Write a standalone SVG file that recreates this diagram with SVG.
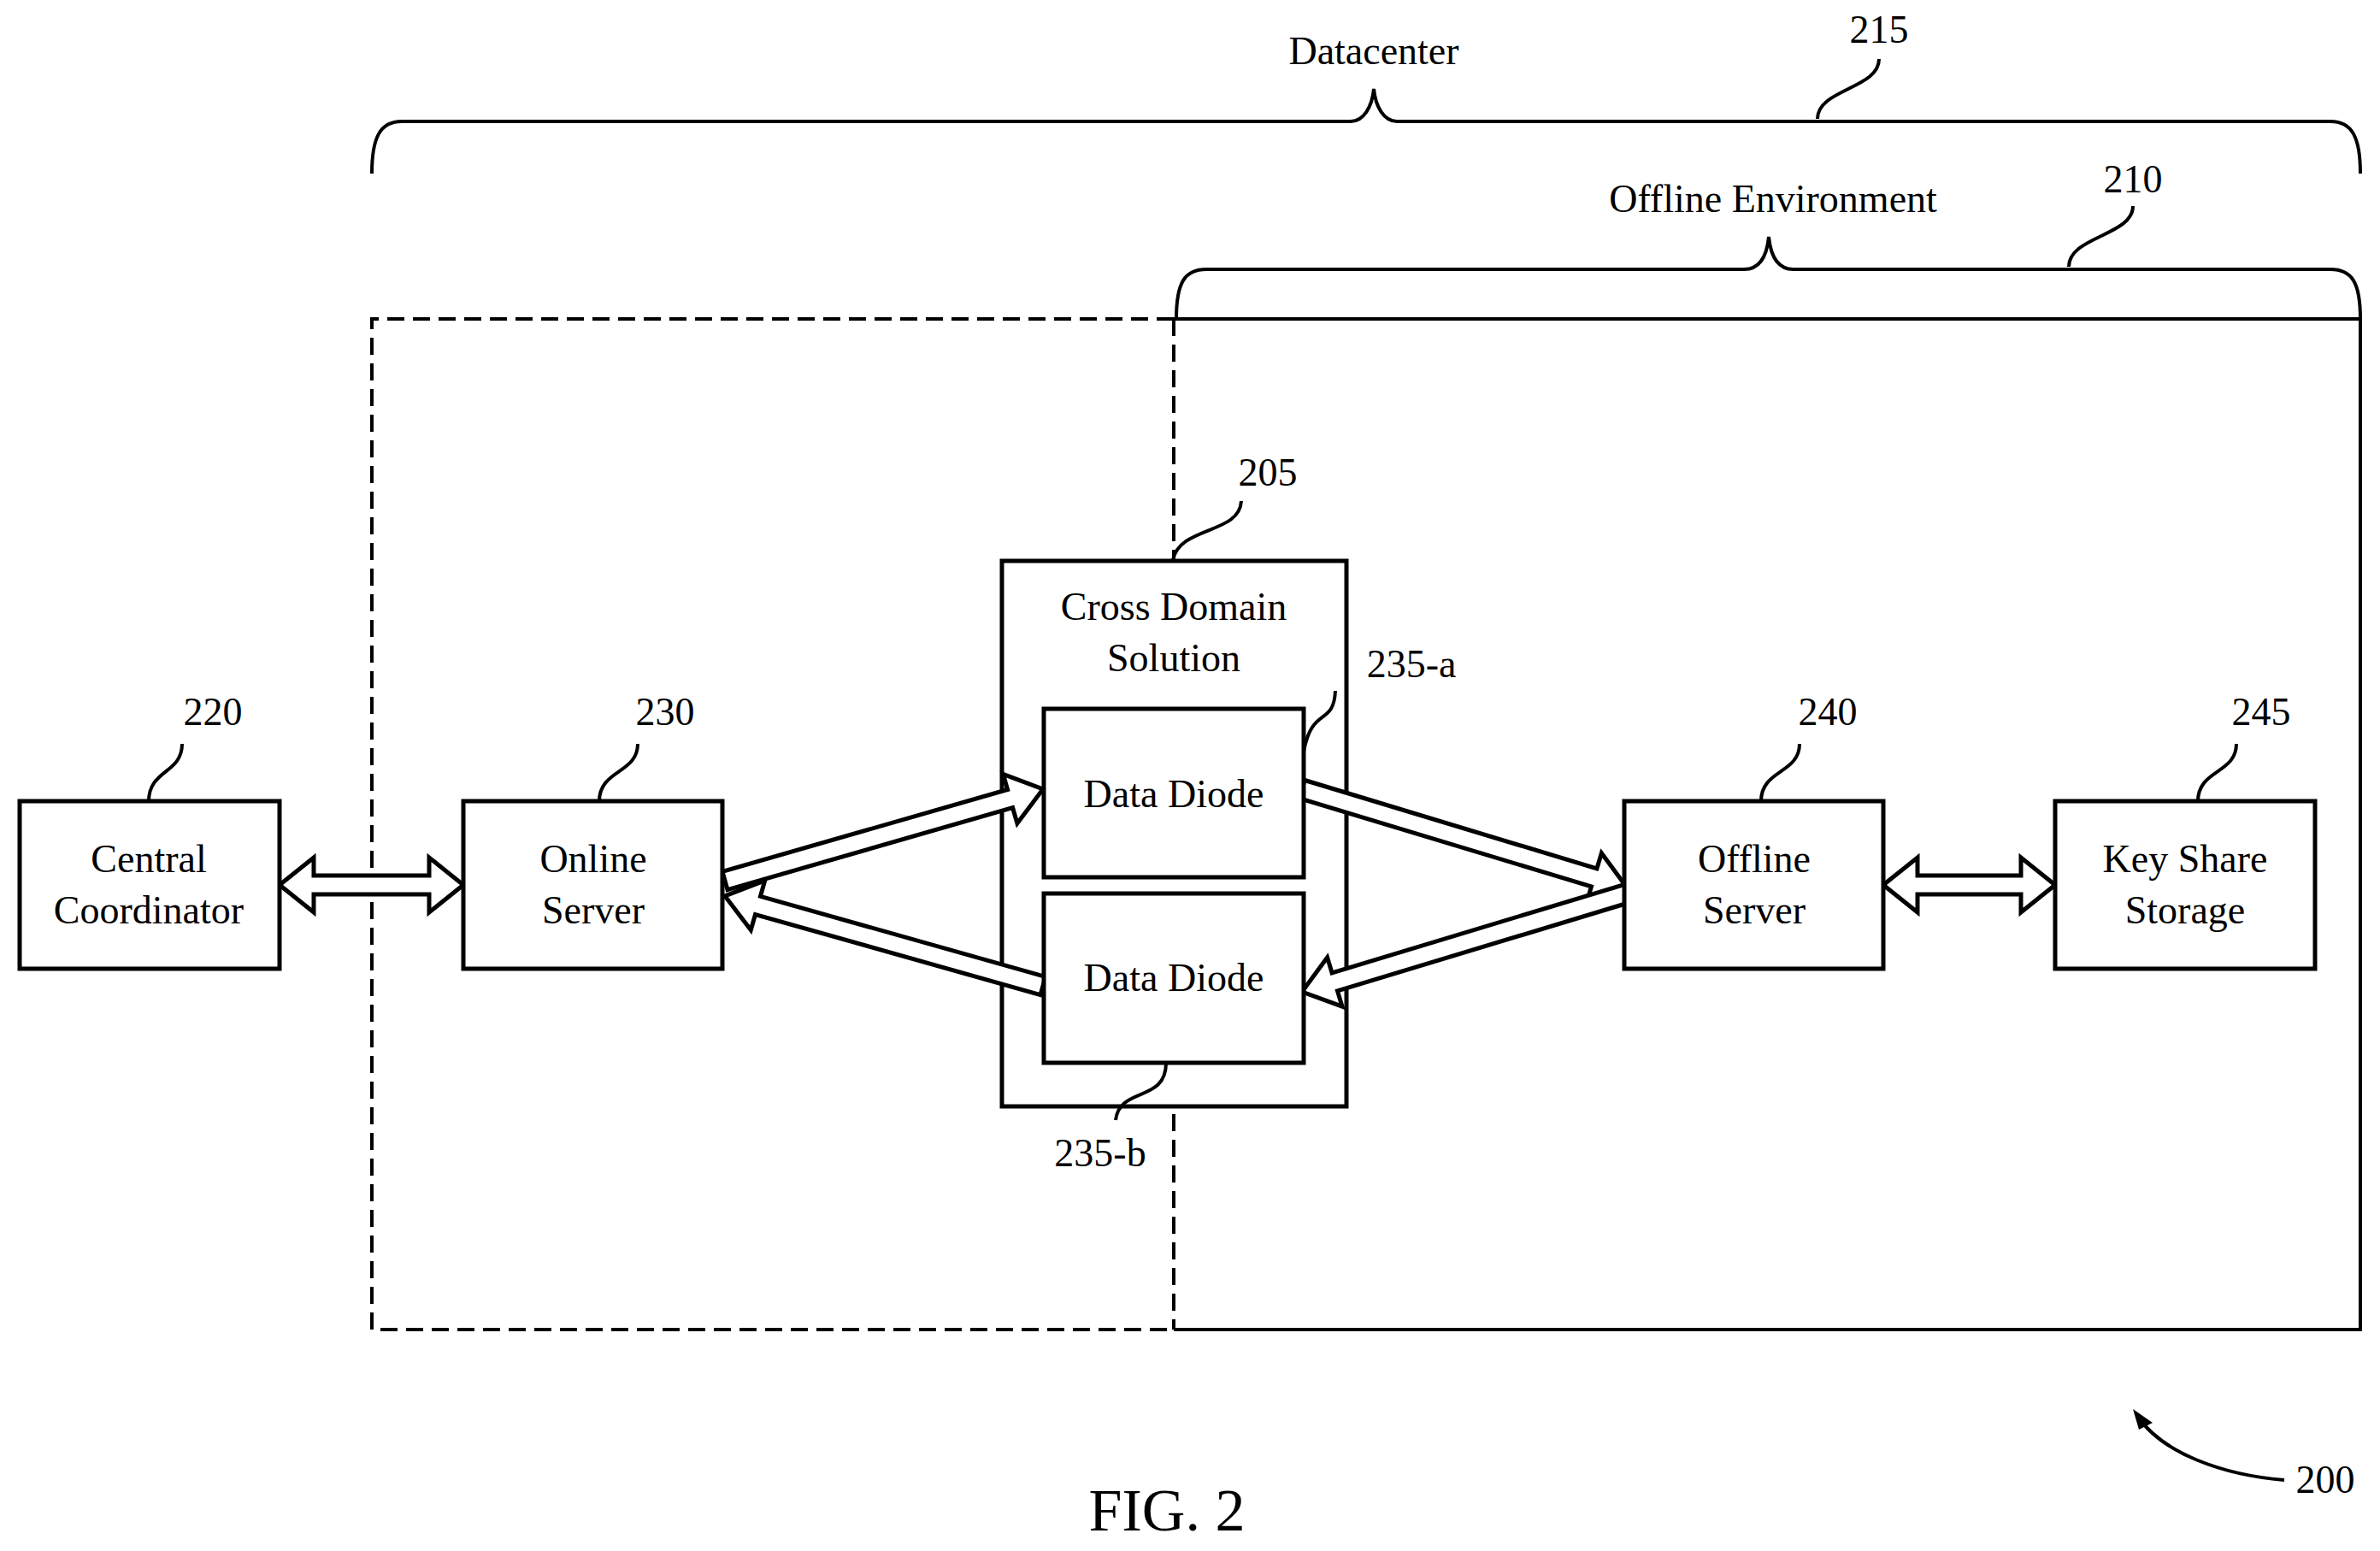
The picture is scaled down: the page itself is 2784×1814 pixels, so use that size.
<svg xmlns="http://www.w3.org/2000/svg" width="2784" height="1814" viewBox="0 0 2784 1814">
<style>
text{font-family:"Liberation Serif","Times New Roman",serif;font-size:46px;fill:#000;text-anchor:middle}
.b{fill:#fff;stroke:#000;stroke-width:5}
.l{fill:none;stroke:#000;stroke-width:4}
.ar{fill:#fff;stroke:#000;stroke-width:5;stroke-linejoin:miter}
.d{fill:none;stroke:#000;stroke-width:4;stroke-dasharray:20 10}
</style>
<rect width="2784" height="1814" fill="#fff"/>
<g id="datacenter">
<path class="l" stroke-width="6" d="M435,203 C435,160 445,142 470,142 L1580,142 C1595,142 1605,125 1607,104 C1609,125 1619,142 1634,142 L2726,142 C2751,142 2761,160 2761,203"/>
<text x="1607" y="75">Datacenter</text>
<text x="2198" y="50">215</text>
<path class="l" d="M2126,139 C2126,104 2198,104 2198,69"/>
<path class="d" d="M1373,373 L435,373 L435,1555 L1373,1555 M1373,373 L1373,1555"/>
</g>
<g id="offline-env">
<path class="l" stroke-width="6" d="M1376,373 C1376,330 1386,315 1411,315 L2040,315 C2060,315 2067,297 2069,277 C2071,297 2078,315 2098,315 L2726,315 C2751,315 2761,330 2761,373"/>
<text x="2074" y="248">Offline Environment</text>
<text x="2495" y="225">210</text>
<path class="l" d="M2420,312 C2420,276 2495,276 2495,241"/>
<path class="l" d="M1373,373 L2761,373 L2761,1555 L1373,1555"/>
</g>
<g id="cds">
<rect class="b" x="1172" y="656" width="403" height="638"/>
<text x="1373" y="725">Cross Domain</text>
<text x="1373" y="785">Solution</text>
<text x="1483" y="568">205</text>
<path class="l" d="M1372,655 C1380,615 1450,625 1452,586"/>
</g>
<g id="connectors">
<polygon class="ar" points="327,1035 367,1003 367,1024 502,1024 502,1003 542,1035 502,1067 502,1046 367,1046 367,1067"/>
<polygon class="ar" points="2203,1035 2243,1003 2243,1024 2364,1024 2364,1003 2404,1035 2364,1067 2364,1046 2243,1046 2243,1067"/>
<polygon class="ar" points="845.0,1019.4 1178.6,923.5 1173.3,905.3 1220,923 1189.9,962.9 1184.6,944.7 851.0,1040.6"/>
<polygon class="ar" points="1217.0,1163.6 883.5,1069.5 878.3,1087.8 848,1048 894.7,1030.0 889.5,1048.3 1223.0,1142.4"/>
<polygon class="ar" points="1526.2,912.5 1867.9,1015.9 1873.4,997.7 1903,1038 1856.0,1055.1 1861.5,1036.9 1519.8,933.5"/>
<polygon class="ar" points="1906.2,1055.5 1564.5,1158.9 1570.0,1177.1 1523,1160 1552.6,1119.7 1558.1,1137.9 1899.8,1034.5"/>
</g>
<g id="diode-a">
<rect class="b" x="1221" y="829" width="304" height="197"/>
<text x="1373" y="944">Data Diode</text>
<text x="1651" y="792">235-a</text>
<path class="l" d="M1525,879 C1535,825 1560,850 1562,808"/>
</g>
<g id="diode-b">
<rect class="b" x="1221" y="1045" width="304" height="198"/>
<text x="1373" y="1159">Data Diode</text>
<text x="1287" y="1364">235-b</text>
<path class="l" d="M1364,1243 C1364,1290 1310,1270 1305,1310"/>
</g>
<g id="central">
<rect class="b" x="23" y="937" width="304" height="196"/>
<text x="174" y="1020">Central</text>
<text x="174" y="1080">Coordinator</text>
<text x="249" y="848">220</text>
<path class="l" d="M174,937 C174,900 213,905 213,870"/>
</g>
<g id="online">
<rect class="b" x="542" y="937" width="303" height="196"/>
<text x="694" y="1020">Online</text>
<text x="694" y="1080">Server</text>
<text x="778" y="848">230</text>
<path class="l" d="M701,937 C701,900 746,905 746,870"/>
</g>
<g id="offline">
<rect class="b" x="1900" y="937" width="303" height="196"/>
<text x="2052" y="1020">Offline</text>
<text x="2052" y="1080">Server</text>
<text x="2138" y="848">240</text>
<path class="l" d="M2060,937 C2060,900 2105,905 2105,870"/>
</g>
<g id="keyshare">
<rect class="b" x="2404" y="937" width="304" height="196"/>
<text x="2556" y="1020">Key Share</text>
<text x="2556" y="1080">Storage</text>
<text x="2645" y="848">245</text>
<path class="l" d="M2571,937 C2571,900 2616,905 2616,870"/>
</g>
<g id="fig">
<text x="2720" y="1746">200</text>
<path class="l" d="M2672,1731 C2600,1725 2530,1700 2500,1656"/>
<path d="M2495,1648 L2518,1664 L2502,1672 Z" fill="#000"/>
<text x="1365" y="1790" style="font-size:70px">FIG. 2</text>
</g>
</svg>
